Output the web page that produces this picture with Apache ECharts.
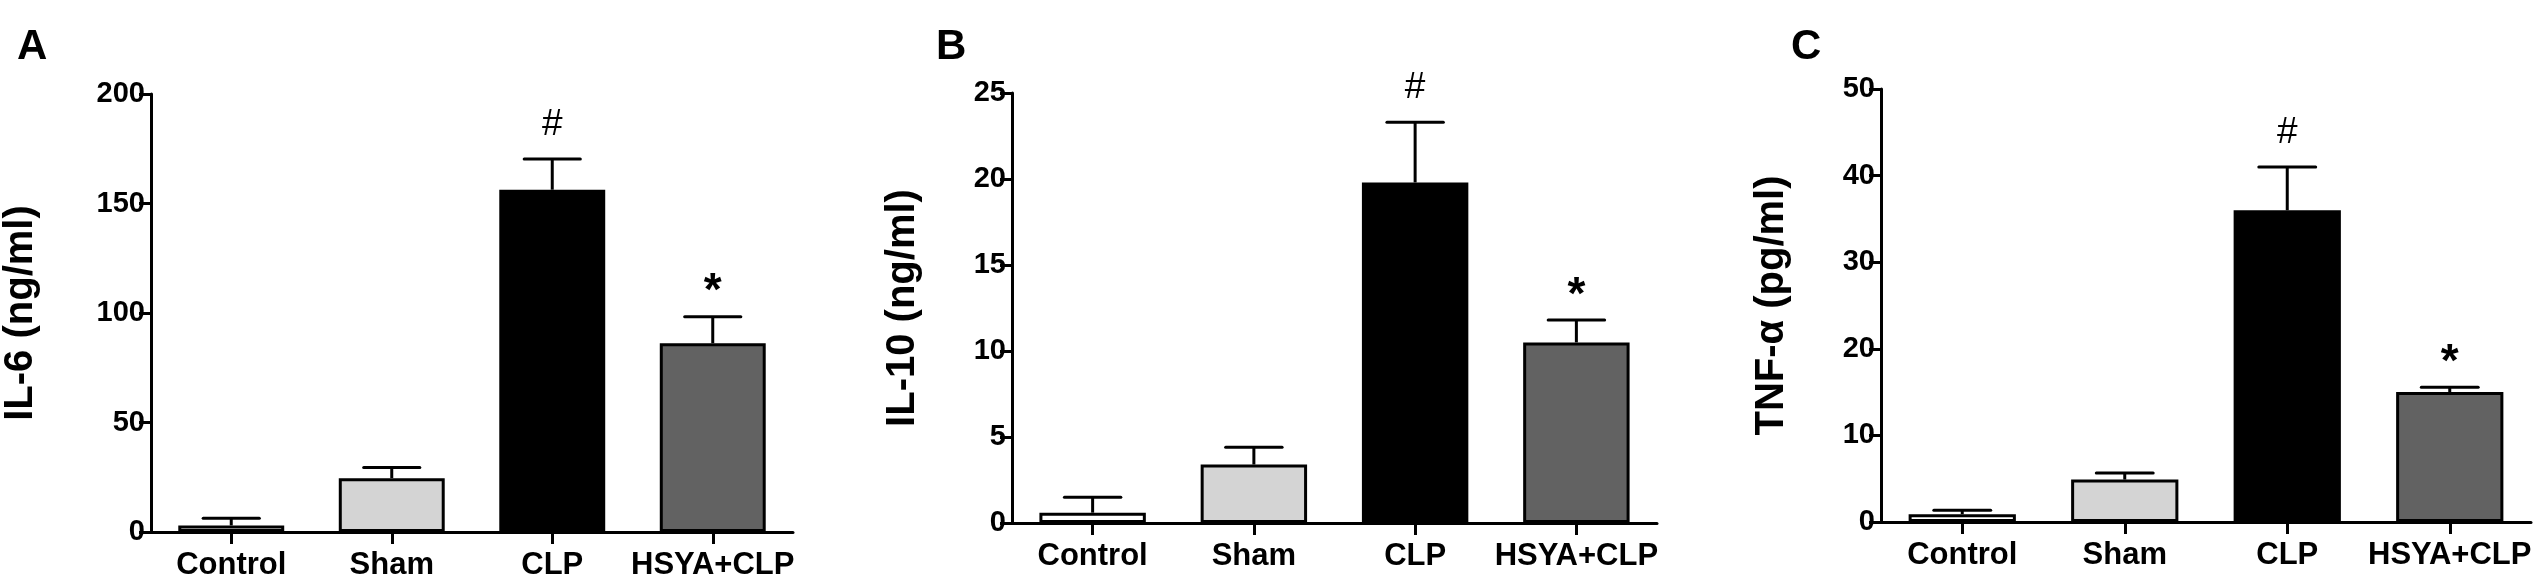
<!DOCTYPE html>
<html>
<head>
<meta charset="utf-8">
<title>IL-6 / IL-10 / TNF-α</title>
<script src="https://cdn.jsdelivr.net/npm/echarts/dist/echarts.min.js"></script>
<style>
  html, body { margin: 0; padding: 0; background: #fff; }
  #main { width: 2546px; height: 584px; }
</style>
</head>
<body>
<div id="main"></div>
<script>
// groups on the x axis
var groups = ['Control', 'Sham', 'CLP', 'HSYA+CLP'];
var barColors = ['#ffffff', '#d4d4d4', '#000000', '#626262'];

// A: IL-6 (ng/ml)
var il6Mean = [3.0, 24.6, 156.3, 86.2];
var il6Sem = [3.3, 4.8, 14.0, 12.1];
// B: IL-10 (ng/ml)
var il10Mean = [0.6, 3.4, 19.8, 10.5];
var il10Sem = [0.9, 1.0, 3.5, 1.3];
// C: TNF-α (pg/ml)
var tnfMean = [0.9, 4.9, 36.0, 15.0];
var tnfSem = [0.45, 0.75, 5.0, 0.55];

// significance marks above the error bars
var marks = ['', '', '#', '*'];

var font = 'Liberation Sans, Arial, Helvetica, sans-serif';

var panels = [
    {letter: 'A', name: 'IL-6 (ng/ml)', mean: il6Mean, sem: il6Sem, max: 200, step: 50,
     grid: {left: 133, top: 94, width: 660, height: 438}, gap: 110, letterLeft: 12},
    {letter: 'B', name: 'IL-10 (ng/ml)', mean: il10Mean, sem: il10Sem, max: 25, step: 5,
     grid: {left: 1012, top: 93, width: 645, height: 430}, gap: 89, letterLeft: 931},
    {letter: 'C', name: 'TNF-α (pg/ml)', mean: tnfMean, sem: tnfSem, max: 50, step: 10,
     grid: {left: 1881, top: 89, width: 650, height: 433}, gap: 89, letterLeft: 1786}
];

var chart = echarts.init(document.getElementById('main'));

var axisLine = {show: true, lineStyle: {color: '#000', width: 3}};
var axisTick = {show: true, length: 12, lineStyle: {color: '#000', width: 3}};

function errorBar(params, api) {
    var i = api.value(0);
    var base = api.coord([i, api.value(1)]);
    var top = api.coord([i, api.value(1) + api.value(2)]);
    var half = api.size([1, 0])[0] * 0.175;
    var children = [
        {type: 'line', shape: {x1: base[0], y1: base[1], x2: top[0], y2: top[1]},
         style: {stroke: '#000', lineWidth: 3}},
        {type: 'line', shape: {x1: base[0] - half, y1: top[1], x2: base[0] + half, y2: top[1]},
         style: {stroke: '#000', lineWidth: 3, lineCap: 'round'}}
    ];
    var m = marks[i];
    if (m) {
        var star = m === '*';
        children.push({
            type: 'text',
            x: base[0], y: top[1] - (star ? 24 : 34),
            style: {
                text: m, fill: '#000', align: 'center', verticalAlign: 'middle',
                font: (star ? 'bold 46px ' : 'normal 37px ') + font
            }
        });
    }
    return {type: 'group', children: children};
}

var option = {
    animation: false,
    backgroundColor: '#fff',
    title: [], grid: [], xAxis: [], yAxis: [], series: []
};

panels.forEach(function (p, k) {
    option.title.push({
        text: p.letter, left: p.letterLeft, top: 21,
        textStyle: {fontFamily: font, fontWeight: 'bold', fontSize: 42, color: '#000'}
    });
    option.grid.push(p.grid);
    option.xAxis.push({
        type: 'category', gridIndex: k, data: groups,
        axisLine: axisLine,
        axisTick: Object.assign({alignWithLabel: true, interval: 0}, axisTick),
        axisLabel: {interval: 0, margin: 18, color: '#000', fontFamily: font,
                    fontWeight: 'bold', fontSize: 31},
        splitLine: {show: false}
    });
    option.yAxis.push({
        type: 'value', gridIndex: k, min: 0, max: p.max, interval: p.step,
        name: p.name, nameLocation: 'middle', nameGap: p.gap,
        nameTextStyle: {color: '#000', fontFamily: font, fontWeight: 'bold', fontSize: 40},
        axisLine: axisLine, axisTick: axisTick,
        axisLabel: {margin: 6, color: '#000', fontFamily: font, fontWeight: 'bold', fontSize: 29},
        splitLine: {show: false}
    });
    option.series.push({
        type: 'bar', xAxisIndex: k, yAxisIndex: k, barWidth: '66%',
        data: p.mean.map(function (v, i) {
            return {value: v, itemStyle: {color: barColors[i]}};
        }),
        itemStyle: {borderColor: '#000', borderWidth: 3}
    });
    option.series.push({
        type: 'custom', xAxisIndex: k, yAxisIndex: k, z: 5,
        renderItem: errorBar,
        data: p.mean.map(function (v, i) { return [i, v, p.sem[i]]; })
    });
});

chart.setOption(option);
window.addEventListener('resize', function () {
    chart.resize();
});
</script>
</body>
</html>
